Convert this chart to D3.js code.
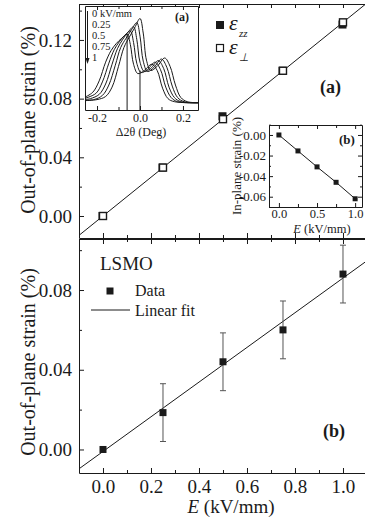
<!DOCTYPE html>
<html>
<head>
<meta charset="utf-8">
<script src="https://cdn.jsdelivr.net/npm/d3@7"></script>
<style>
  body { margin: 0; background: #fff; }
  svg { display: block; }
</style>
</head>
<body>
<div id="chart"></div>
<script>
// ---------------- data ----------------
// field values (kV/mm)
const fieldKV = [0, 0.25, 0.5, 0.75, 1.0];

// panel (a): out-of-plane strain (%)
const strainZZ = [0.0, 0.033, 0.068, 0.099, 0.1305];
const strainPerp = [0.0, 0.033, 0.066, 0.099, 0.132];
const fitA = { slope: 0.132, intercept: 0.0 };

// panel (b): LSMO out-of-plane strain (%) with error bars
const lsmoStrain = [0.0, 0.0185, 0.044, 0.060, 0.088];
const lsmoError = [0.0, 0.0145, 0.0145, 0.0145, 0.0145];
const fitB = { slope: 0.087, intercept: -0.001 };

// inset (b): in-plane strain (%)
const inPlaneStrain = [0.0, -0.0155, -0.031, -0.046, -0.062];

// inset (a): rocking curves, [delta 2theta (deg), normalised intensity]
const curveLabels = ['0 kV/mm', '0.25', '0.5', '0.75', '1'];
const curve0 = [[-0.26,0.09],[-0.20,0.10],[-0.16,0.13],[-0.13,0.22],[-0.10,0.42],[-0.075,0.60],[-0.05,0.70],[-0.025,0.79],[0.0,0.88],[0.015,0.74],[0.03,0.48],[0.05,0.38],[0.08,0.42],[0.115,0.50],[0.14,0.42],[0.165,0.24],[0.19,0.12],[0.22,0.08],[0.27,0.07]];
const curve1 = [[-0.26,0.095],[-0.215,0.10],[-0.175,0.14],[-0.145,0.24],[-0.115,0.43],[-0.09,0.60],[-0.065,0.69],[-0.04,0.77],[-0.015,0.84],[0.0,0.71],[0.015,0.47],[0.035,0.37],[0.065,0.41],[0.10,0.49],[0.125,0.41],[0.15,0.23],[0.175,0.12],[0.205,0.08],[0.27,0.07]];
const curve2 = [[-0.26,0.10],[-0.23,0.11],[-0.19,0.15],[-0.16,0.25],[-0.13,0.44],[-0.105,0.59],[-0.08,0.68],[-0.055,0.75],[-0.03,0.80],[-0.015,0.68],[0.0,0.46],[0.02,0.37],[0.05,0.40],[0.085,0.475],[0.11,0.40],[0.135,0.22],[0.16,0.12],[0.19,0.08],[0.27,0.07]];
const curve3 = [[-0.26,0.11],[-0.205,0.16],[-0.175,0.27],[-0.145,0.45],[-0.12,0.58],[-0.095,0.66],[-0.07,0.72],[-0.045,0.76],[-0.03,0.65],[-0.015,0.45],[0.005,0.36],[0.035,0.39],[0.07,0.46],[0.095,0.39],[0.12,0.22],[0.145,0.12],[0.175,0.08],[0.27,0.07]];
const curve4 = [[-0.26,0.12],[-0.22,0.17],[-0.19,0.28],[-0.16,0.46],[-0.135,0.57],[-0.11,0.64],[-0.085,0.69],[-0.06,0.73],[-0.045,0.63],[-0.03,0.44],[-0.01,0.35],[0.02,0.38],[0.055,0.44],[0.08,0.38],[0.105,0.21],[0.13,0.11],[0.16,0.08],[0.27,0.07]];
const rockingCurves = [curve0, curve1, curve2, curve3, curve4];
const peakMarkers = [-0.06, 0.0];
const peakMarkerTops = [0.73, 0.38];

// tick values
const fieldMajor = [0, 0.2, 0.4, 0.6, 0.8, 1.0];
const fieldMinor = [-0.1, 0.1, 0.3, 0.5, 0.7, 0.9];
const strainMajorA = [0, 0.04, 0.08, 0.12];
const strainMinorA = [0.02, 0.06, 0.10, 0.14];
const strainMajorB = [0, 0.04, 0.08];
const strainMinorB = [0.02, 0.06, 0.10];
const thetaMajor = [-0.2, 0.0, 0.2];
const thetaMinor = [-0.1, 0.1];
const inFieldMajor = [0, 0.5, 1.0];
const inFieldMinor = [0.25, 0.75];
const inStrainMajor = [0, -0.02, -0.04, -0.06];
const inStrainMinor = [0.01, -0.01, -0.03, -0.05, -0.07];

// ---------------- chart ----------------
const FONT = '"Liberation Serif", "Times New Roman", serif';
const INK = '#1a1a1a';
const width = 365, height = 520;

const svg = d3.select('#chart').append('svg')
    .attr('width', width).attr('height', height)
    .attr('font-family', FONT);

// main scales
const xScale = d3.scaleLinear().domain([-0.1, 1.0917]).range([79, 365]);
const yScaleA = d3.scaleLinear().domain([-0.015, 0.1445]).range([238, 4]);
const yScaleB = d3.scaleLinear().domain([-0.0118, 0.1056]).range([473, 239]);

// inward ticks, majors longer than minors
function add_axis(parent, gen, scale, tx, ty, major, minor, fmt, pad, fontSize, majorLen = 5, minorLen = 3) {
    const g = parent.append('g').attr('transform', `translate(${tx},${ty})`);
    g.call(gen(scale).tickValues(minor).tickSize(-minorLen).tickSizeOuter(0).tickFormat(''));
    const gm = g.append('g').call(gen(scale).tickValues(major).tickSize(-majorLen).tickSizeOuter(0)
        .tickPadding(pad).tickFormat(fmt || (() => '')));
    gm.select('.domain').remove();
    g.attr('font-family', null).attr('font-size', null);
    gm.attr('font-family', FONT).attr('font-size', fontSize);
    g.selectAll('line, path').attr('stroke', INK).attr('stroke-width', 1);
    g.selectAll('text').attr('fill', INK);
    return g;
}

const f2 = d => d.toFixed(2);
const f1 = d => d.toFixed(1);

function clip_rect(id, x0, y0, x1, y1) {
    svg.append('clipPath').attr('id', id).append('rect')
        .attr('x', x0).attr('y', y0).attr('width', x1 - x0).attr('height', y1 - y0);
}

// ---------- panel (a) ----------
clip_rect('clipA', 79, 4, 365, 238);
const gA = svg.append('g');

const fitLine = (fit, yScale) => d3.line()
    .x(d => xScale(d))
    .y(d => yScale(fit.slope * d + fit.intercept));

gA.append('path')
    .datum(xScale.domain())
    .attr('clip-path', 'url(#clipA)')
    .attr('fill', 'none').attr('stroke', INK).attr('stroke-width', 1)
    .attr('d', fitLine(fitA, yScaleA));

const sq = 8;
gA.selectAll('.zz').data(fieldKV).join('rect')
    .attr('class', 'zz')
    .attr('x', (d, i) => xScale(d) - sq / 2 - 0.5)
    .attr('y', (d, i) => yScaleA(strainZZ[i]) - sq / 2)
    .attr('width', sq).attr('height', sq).attr('fill', INK);

gA.selectAll('.perp').data(fieldKV).join('rect')
    .attr('class', 'perp')
    .attr('x', (d, i) => xScale(d) - sq / 2 + 0.5)
    .attr('y', (d, i) => yScaleA(strainPerp[i]) - sq / 2 + 0.5)
    .attr('width', sq - 1).attr('height', sq - 1)
    .attr('fill', '#fff').attr('stroke', INK).attr('stroke-width', 1.4);

add_axis(gA, d3.axisLeft, yScaleA, 79, 0, strainMajorA, strainMinorA, f2, 7, 19);
add_axis(gA, d3.axisTop, xScale, 0, 4, fieldMajor, fieldMinor, null, 0, 10, 4, 4);
add_axis(gA, d3.axisBottom, xScale, 0, 238, fieldMajor, fieldMinor, null, 0, 10, 5, 3);

gA.append('text')
    .attr('transform', 'translate(28,120) rotate(-90)')
    .attr('text-anchor', 'middle').attr('dominant-baseline', 'central')
    .attr('font-size', 20).attr('fill', INK)
    .text('Out-of-plane strain (%)');

// legend (a)
gA.append('rect').attr('x', 216).attr('y', 21).attr('width', 8).attr('height', 8).attr('fill', INK);
gA.append('rect').attr('x', 216.5).attr('y', 44.5).attr('width', 7).attr('height', 7)
    .attr('fill', '#fff').attr('stroke', INK).attr('stroke-width', 1.2);
const legendSymbols = [{ y: 30, sub: 'zz', subY: 37 }, { y: 54, sub: '\u22A5', subY: 61 }];
legendSymbols.forEach(s => {
    gA.append('text').attr('x', 229).attr('y', s.y)
        .attr('font-size', 22).attr('font-style', 'italic').attr('fill', INK).text('\u03B5');
    gA.append('text').attr('x', 239).attr('y', s.subY)
        .attr('font-size', 11).attr('font-style', 'italic').attr('fill', INK).text(s.sub);
});

gA.append('text').attr('x', 320).attr('y', 93)
    .attr('font-size', 18).attr('font-weight', 'bold').attr('fill', INK).text('(a)');

// ---------- inset (a): rocking curves ----------
const xTheta = d3.scaleLinear().domain([-0.256, 0.27]).range([85, 198]);
const yInt = d3.scaleLinear().domain([0, 1]).range([110, 6]);
const gIa = svg.append('g');
clip_rect('clipIa', 85, 6, 198, 110);

gIa.append('rect').attr('x', 85).attr('y', 6).attr('width', 113).attr('height', 104).attr('fill', '#fff');

const curveLine = d3.line()
    .x(d => xTheta(d[0])).y(d => yInt(d[1]))
    .curve(d3.curveCatmullRom.alpha(0.5));

gIa.selectAll('.rc').data(rockingCurves).join('path')
    .attr('class', 'rc')
    .attr('clip-path', 'url(#clipIa)')
    .attr('fill', 'none').attr('stroke', INK).attr('stroke-width', 1)
    .attr('d', curveLine);

gIa.selectAll('.pm').data(peakMarkers).join('line')
    .attr('class', 'pm')
    .attr('x1', d => xTheta(d)).attr('x2', d => xTheta(d))
    .attr('y1', yInt(0)).attr('y2', (d, i) => yInt(peakMarkerTops[i]))
    .attr('stroke', INK).attr('stroke-width', 1);

add_axis(gIa, d3.axisBottom, xTheta, 0, 110, thetaMajor, thetaMinor, f1, 3, 12, 4, 3);
add_axis(gIa, d3.axisTop, xTheta, 0, 6, thetaMajor, thetaMinor, null, 0, 10, 4, 3);
add_axis(gIa, d3.axisLeft, yInt, 85, 0, [], [], null, 0, 10);
add_axis(gIa, d3.axisRight, yInt, 198, 0, [], [], null, 0, 10);

gIa.selectAll('.cl').data(curveLabels).join('text')
    .attr('class', 'cl')
    .attr('x', 92).attr('y', (d, i) => 17 + i * 11)
    .attr('font-size', 10.5).attr('fill', INK).text(d => d);

// field direction arrow
gIa.append('line').attr('x1', 87.5).attr('x2', 87.5).attr('y1', 11).attr('y2', 60)
    .attr('stroke', INK).attr('stroke-width', 1);
gIa.append('path').attr('d', 'M85.5,58 L89.5,58 L87.5,64 Z').attr('fill', INK);

gIa.append('text').attr('x', 141).attr('y', 136)
    .attr('text-anchor', 'middle').attr('font-size', 12).attr('fill', INK)
    .text('\u03942\u03B8 (Deg)');
gIa.append('text').attr('x', 175).attr('y', 21)
    .attr('font-size', 12).attr('font-weight', 'bold').attr('fill', INK).text('(a)');

// ---------- inset (b): in-plane strain ----------
const xIn = d3.scaleLinear().domain([-0.13, 1.09]).range([269, 362]);
const yIn = d3.scaleLinear().domain([-0.07, 0.0097]).range([207, 125]);
const gIb = svg.append('g');
gIb.append('rect').attr('x', 269).attr('y', 125).attr('width', 93).attr('height', 82).attr('fill', '#fff');

gIb.append('path')
    .datum(fieldKV)
    .attr('fill', 'none').attr('stroke', INK).attr('stroke-width', 1)
    .attr('d', d3.line().x(d => xIn(d)).y((d, i) => yIn(inPlaneStrain[i])));

gIb.selectAll('.ip').data(fieldKV).join('rect')
    .attr('class', 'ip')
    .attr('x', d => xIn(d) - 2.5)
    .attr('y', (d, i) => yIn(inPlaneStrain[i]) - 2.5)
    .attr('width', 5).attr('height', 5).attr('fill', INK);

add_axis(gIb, d3.axisLeft, yIn, 269, 0, inStrainMajor, inStrainMinor, f2, 3, 13, 4, 2);
add_axis(gIb, d3.axisRight, yIn, 362, 0, inStrainMajor, inStrainMinor, null, 0, 10, 4, 2);
add_axis(gIb, d3.axisBottom, xIn, 0, 207, inFieldMajor, inFieldMinor, f1, 2, 12.5, 4, 3);
add_axis(gIb, d3.axisTop, xIn, 0, 125, inFieldMajor, inFieldMinor, null, 0, 10, 4, 3);

gIb.append('text')
    .attr('transform', 'translate(236,166) rotate(-90)')
    .attr('text-anchor', 'middle').attr('dominant-baseline', 'central')
    .attr('font-size', 13).attr('fill', INK)
    .text('In-plane strain (%)');

const inXLabel = gIb.append('text').attr('x', 322).attr('y', 233)
    .attr('text-anchor', 'middle').attr('font-size', 12.5).attr('fill', INK);
inXLabel.append('tspan').attr('font-style', 'italic').text('E');
inXLabel.append('tspan').text(' (kV/mm)');

gIb.append('text').attr('x', 339).attr('y', 144)
    .attr('font-size', 13).attr('font-weight', 'bold').attr('fill', INK).text('(b)');

// ---------- panel (b) ----------
clip_rect('clipB', 79, 239, 365, 473);
const gB = svg.append('g');

gB.append('path')
    .datum(xScale.domain())
    .attr('clip-path', 'url(#clipB)')
    .attr('fill', 'none').attr('stroke', INK).attr('stroke-width', 1)
    .attr('d', fitLine(fitB, yScaleB));

const errData = fieldKV.map((d, i) => ({ e: d, s: lsmoStrain[i], err: lsmoError[i] })).filter(d => d.err > 0);
const eb = gB.selectAll('.eb').data(errData).join('g').attr('class', 'eb')
    .attr('stroke', '#555').attr('stroke-width', 1);
eb.append('line')
    .attr('x1', d => xScale(d.e)).attr('x2', d => xScale(d.e))
    .attr('y1', d => yScaleB(d.s - d.err)).attr('y2', d => yScaleB(d.s + d.err));
eb.append('line')
    .attr('x1', d => xScale(d.e) - 3).attr('x2', d => xScale(d.e) + 3)
    .attr('y1', d => yScaleB(d.s - d.err)).attr('y2', d => yScaleB(d.s - d.err));
eb.append('line')
    .attr('x1', d => xScale(d.e) - 3).attr('x2', d => xScale(d.e) + 3)
    .attr('y1', d => yScaleB(d.s + d.err)).attr('y2', d => yScaleB(d.s + d.err));

gB.selectAll('.pt').data(fieldKV).join('rect')
    .attr('class', 'pt')
    .attr('x', d => xScale(d) - 3.5)
    .attr('y', (d, i) => yScaleB(lsmoStrain[i]) - 3.5)
    .attr('width', 7).attr('height', 7).attr('fill', INK);

add_axis(gB, d3.axisLeft, yScaleB, 79, 0, strainMajorB, strainMinorB, f2, 7, 19);
add_axis(gB, d3.axisBottom, xScale, 0, 473, fieldMajor, fieldMinor, f1, 7, 19, 5, 3);
add_axis(gB, d3.axisTop, xScale, 0, 239, fieldMajor, fieldMinor, null, 0, 10, 5, 3);

gB.append('text')
    .attr('transform', 'translate(28,362) rotate(-90)')
    .attr('text-anchor', 'middle').attr('dominant-baseline', 'central')
    .attr('font-size', 20).attr('fill', INK)
    .text('Out-of-plane strain (%)');

const xLabel = gB.append('text').attr('x', 231).attr('y', 513)
    .attr('text-anchor', 'middle').attr('font-size', 19).attr('fill', INK);
xLabel.append('tspan').attr('font-style', 'italic').text('E');
xLabel.append('tspan').text(' (kV/mm)');

// legend (b)
gB.append('text').attr('x', 100).attr('y', 270).attr('font-size', 19).attr('fill', INK).text('LSMO');
gB.append('rect').attr('x', 106.5).attr('y', 287.5).attr('width', 7).attr('height', 7).attr('fill', INK);
gB.append('text').attr('x', 135).attr('y', 296).attr('font-size', 16).attr('fill', INK).text('Data');
gB.append('line').attr('x1', 91).attr('x2', 130).attr('y1', 310).attr('y2', 310)
    .attr('stroke', INK).attr('stroke-width', 1);
gB.append('text').attr('x', 135).attr('y', 316).attr('font-size', 16).attr('fill', INK).text('Linear fit');

gB.append('text').attr('x', 323).attr('y', 437)
    .attr('font-size', 18).attr('font-weight', 'bold').attr('fill', INK).text('(b)');
</script>
</body>
</html>
